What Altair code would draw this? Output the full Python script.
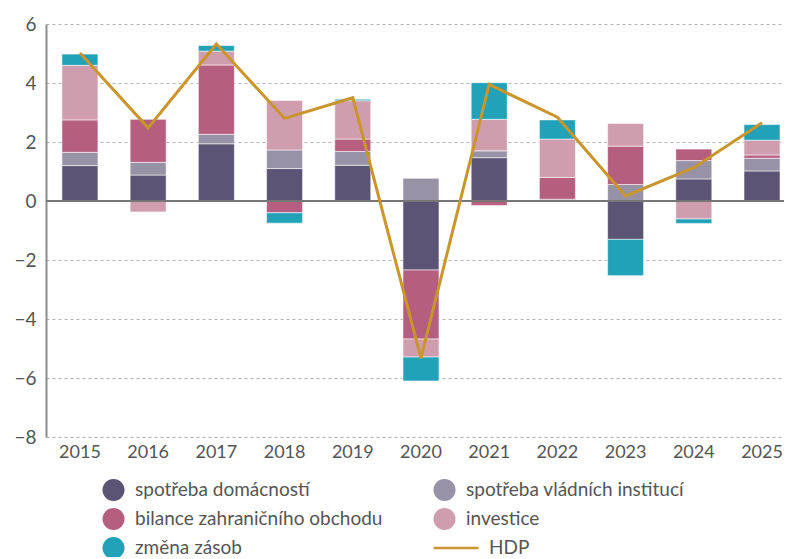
import altair as alt
import pandas as pd

years = [str(y) for y in range(2015, 2026)]
components = [
    "spotřeba domácností",
    "spotřeba vládních institucí",
    "bilance zahraničního obchodu",
    "investice",
    "změna zásob",
]
domacnosti = [1.20, 0.88, 1.94, 1.10, 1.21, -2.34, 1.47, 0.00, -1.30, 0.75, 1.02]
vladni = [0.45, 0.43, 0.32, 0.63, 0.47, 0.77, 0.23, 0.06, 0.56, 0.62, 0.43]
obchod = [1.10, 1.47, 2.35, -0.40, 0.42, -2.34, -0.15, 0.74, 1.30, 0.39, 0.11]
investice = [1.85, -0.37, 0.47, 1.68, 1.30, -0.61, 1.07, 1.30, 0.77, -0.61, 0.50]
zasoby = [0.38, 0.00, 0.19, -0.35, 0.05, -0.81, 1.24, 0.65, -1.23, -0.15, 0.53]
hdp = [5.02, 2.48, 5.32, 2.80, 3.50, -5.33, 3.95, 2.84, 0.17, 1.13, 2.65]

bar_colors = ["#5b5474", "#9892a6", "#b55e7f", "#d09dae", "#22a2b8"]
line_color = "#c9952c"
y_ticks = [-8, -6, -4, -2, 0, 2, 4, 6]

FONT = "Lato, sans-serif"
TEXT = "#555555"

series = [domacnosti, vladni, obchod, investice, zasoby]
rows = []
for ci, (name, vals) in enumerate(zip(components, series)):
    for y, v in zip(years, vals):
        rows.append({"rok": y, "slozka": name, "hodnota": v, "poradi": ci})
bars_df = pd.DataFrame(rows)
line_df = pd.DataFrame({"rok": years, "HDP": hdp})

x_scale = alt.Scale(domain=years, paddingInner=0.472, paddingOuter=0.146, align=0.8)
y_scale = alt.Scale(domain=[-8, 6], nice=False, zero=False)

legend = alt.Legend(
    orient="none",
    legendX=55,
    legendY=455,
    direction="horizontal",
    columns=2,
    title=None,
    symbolType=alt.ExprRef(expr="datum.value === 'HDP' ? 'M-1,0H3.1' : 'circle'"),
    symbolSize=484,
    symbolStrokeColor=alt.ExprRef(expr="datum.value === 'HDP' ? '#c9952c' : 'transparent'"),
    symbolStrokeWidth=2.5,
    symbolOpacity=1,
    labelOffset=alt.ExprRef(expr="datum.value === 'HDP' ? 32 : 9"),
    labelFont=FONT,
    labelFontSize=19,
    labelColor=TEXT,
    labelLimit=400,
    columnPadding=49,
    rowPadding=7,
    clipHeight=22,
)

bars = alt.Chart(bars_df).mark_bar(
    stroke="white", strokeWidth=1, strokeOpacity=0.55
).encode(
    x=alt.X("rok:N", scale=x_scale, sort=years,
            axis=alt.Axis(title=None, labelAngle=0, domain=False, ticks=False,
                          labelPadding=6, labelFont=FONT, labelFontSize=18,
                          labelColor=TEXT, grid=False)),
    y=alt.Y("hodnota:Q", scale=y_scale, stack="zero",
            axis=alt.Axis(title=None, values=y_ticks, grid=True, gridDash=[3, 3],
                          gridColor="#b4b4b4", gridWidth=1, ticks=False,
                          domainColor="#8c8c8c", domainWidth=2, labelPadding=10,
                          labelFont=FONT, labelFontSize=19, labelColor=TEXT)),
    color=alt.Color("slozka:N",
                    scale=alt.Scale(domain=components + ["HDP"], range=bar_colors + [line_color]),
                    legend=legend),
    order=alt.Order("poradi:Q"),
)

zero = alt.Chart(line_df).mark_rule(color="#767676", strokeWidth=2).encode(
    y=alt.datum(0)
)

line = alt.Chart(line_df).mark_line(color=line_color, strokeWidth=3).encode(
    x=alt.X("rok:N", scale=x_scale, sort=years),
    y=alt.Y("HDP:Q", scale=y_scale),
)

chart = alt.layer(bars, zero, line).properties(
    width=738,
    height=413,
    padding={"left": 38, "top": 16, "right": 0, "bottom": 120},
    autosize=alt.AutoSizeParams(type="none"),
).configure_view(stroke=None).configure_axis(domainCap="butt")

chart.save("out.html", embed_options={"renderer": "svg", "actions": False})
